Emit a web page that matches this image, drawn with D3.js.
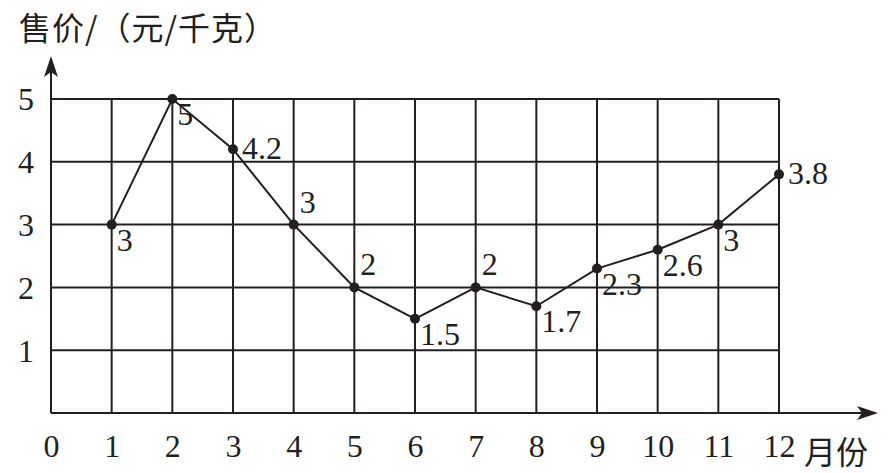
<!DOCTYPE html>
<html>
<head>
<meta charset="utf-8">
<script src="https://cdn.jsdelivr.net/npm/d3@7"></script>
<style>
  body { margin: 0; background: #fff; }
  .tick text { font-family: "Liberation Serif", serif; fill: #231f20; }
</style>
</head>
<body>
<div id="chart"></div>
<script>
// data
const months = [1, 2, 3, 4, 5, 6, 7, 8, 9, 10, 11, 12];
const prices = [3, 5, 4.2, 3, 2, 1.5, 2, 1.7, 2.3, 2.6, 3, 3.8];
const labels = ["3", "5", "4.2", "3", "2", "1.5", "2", "1.7", "2.3", "2.6", "3", "3.8"];
const xTicks = [0, 1, 2, 3, 4, 5, 6, 7, 8, 9, 10, 11, 12];
const yTicks = [1, 2, 3, 4, 5];
// where each value label sits relative to its point
const labelPlace = ["br", "br", "r", "tr", "tr", "br", "tr", "br", "br", "br", "br", "r"];

const W = 893, H = 473;
const ink = "#231f20";

const svg = d3.select("#chart").append("svg")
    .attr("width", W)
    .attr("height", H);

// Scales
const x = d3.scaleLinear().domain([0, 12]).range([51, 779]);
const y = d3.scaleLinear().domain([0, 5]).range([413, 99]);

// Grid
svg.append("g").selectAll("line")
    .data(months)
    .join("line")
    .attr("x1", d => x(d)).attr("x2", d => x(d))
    .attr("y1", y(0)).attr("y2", y(5))
    .attr("stroke", ink).attr("stroke-width", 2);

svg.append("g").selectAll("line")
    .data(yTicks)
    .join("line")
    .attr("x1", x(0)).attr("x2", x(12))
    .attr("y1", d => y(d)).attr("y2", d => y(d))
    .attr("stroke", ink).attr("stroke-width", 2);

// Axes with arrows
const xEnd = 878, yEnd = 56;
svg.append("line")
    .attr("x1", x(0)).attr("x2", xEnd - 6)
    .attr("y1", y(0)).attr("y2", y(0))
    .attr("stroke", ink).attr("stroke-width", 2);
svg.append("line")
    .attr("x1", x(0)).attr("x2", x(0))
    .attr("y1", y(0)).attr("y2", yEnd + 6)
    .attr("stroke", ink).attr("stroke-width", 2);

svg.append("path")
    .attr("d", `M${xEnd},${y(0)} L${xEnd - 21},${y(0) - 7} L${xEnd - 16},${y(0)} L${xEnd - 21},${y(0) + 7} Z`)
    .attr("fill", ink);
svg.append("path")
    .attr("d", `M${x(0)},${yEnd} L${x(0) - 7},${yEnd + 21} L${x(0)},${yEnd + 16} L${x(0) + 7},${yEnd + 21} Z`)
    .attr("fill", ink);

// Tick labels
const xAxis = d3.axisBottom(x).tickValues(xTicks).tickFormat(d3.format("d")).tickSize(0).tickPadding(21);
svg.append("g")
    .attr("transform", "translate(0," + y(0) + ")")
    .call(xAxis)
    .call(g => g.select(".domain").remove())
    .selectAll("text")
    .attr("font-size", 32)
    .attr("dy", "0.71em");

const yAxis = d3.axisLeft(y).tickValues(yTicks).tickFormat(d3.format("d")).tickSize(0).tickPadding(17);
svg.append("g")
    .attr("transform", "translate(" + x(0) + ",0)")
    .call(yAxis)
    .call(g => g.select(".domain").remove())
    .selectAll("text")
    .attr("font-size", 32)
    .attr("dy", "0.34em");

// Axis titles
svg.append("text")
    .attr("x", 19).attr("y", 40)
    .attr("font-family", "Noto Sans CJK SC")
    .attr("font-size", 32)
    .attr("letter-spacing", 1)
    .attr("fill", ink)
    .text("售价/（元/千克）");

svg.append("text")
    .attr("x", 804).attr("y", 464)
    .attr("font-family", "Noto Sans CJK SC")
    .attr("font-size", 32)
    .attr("fill", ink)
    .text("月份");

// Line + points
const pts = months.map((m, i) => ({ m: m, v: prices[i], lab: labels[i], place: labelPlace[i] }));

const line = d3.line().x(d => x(d.m)).y(d => y(d.v));
svg.append("path")
    .datum(pts)
    .attr("d", line)
    .attr("fill", "none")
    .attr("stroke", ink)
    .attr("stroke-width", 2);

svg.append("g").selectAll("circle")
    .data(pts)
    .join("circle")
    .attr("cx", d => x(d.m))
    .attr("cy", d => y(d.v))
    .attr("r", 5)
    .attr("fill", ink);

const offs = { br: [5, 26], r: [9, 10], tr: [6, -12] };
svg.append("g").selectAll("text")
    .data(pts)
    .join("text")
    .attr("x", d => x(d.m) + offs[d.place][0])
    .attr("y", d => y(d.v) + offs[d.place][1])
    .attr("font-family", "Liberation Serif")
    .attr("font-size", 32)
    .attr("fill", ink)
    .text(d => d.lab);
</script>
</body>
</html>
